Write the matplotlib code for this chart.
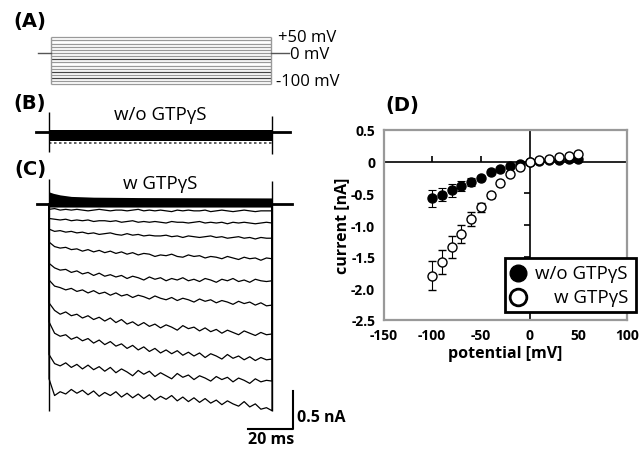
import numpy as np
import matplotlib
matplotlib.use('Agg')
import matplotlib.pyplot as plt
from matplotlib.patches import Rectangle

plt.rcParams['font.family'] = ['Open Sans', 'DejaVu Sans']

W, H = 644, 452

# ---------------- data ----------------
# (A) voltage protocol
step_mv = [50, 40, 30, 20, 10, 0, -10, -20, -30, -40, -50, -60, -70, -80, -90, -100]
step_col = ['#999999'] * 16
for i in (7, 11, 13):
    step_col[i] = '#444444'
hold_mv = 0
step_ms = [0, 100]

# (B) w/o GTPgS - overlapping sweeps form a band (nA)
b_band_t = [0, 100]
b_band_up = [0.035, 0.035]
b_band_lo = [-0.11, -0.11]
b_edge = -0.14
b_onset = [0.27, -0.26]
b_offset = [0.22, -0.29]

# (C) w GTPgS - positive steps (+50..0 mV) overlap near baseline
c_band_t = [0, 2, 5, 10, 20, 40, 100]
c_band_up = [0.16, 0.14, 0.12, 0.10, 0.09, 0.085, 0.08]
c_band_lo = [-0.04, -0.04, -0.04, -0.04, -0.04, -0.04, -0.04]
c_onset_top = 0.33
c_offset_top = 0.30

# (C) sweeps -10 .. -100 mV, sampled every 2.5 ms (nA)
c_sweeps = [
    [-0.07, -0.06, -0.08, -0.07, -0.08, -0.07, -0.08, -0.09, -0.08, -0.07, -0.08, -0.09, -0.08, -0.08,
     -0.09, -0.08, -0.07, -0.09, -0.08, -0.09, -0.08, -0.09, -0.1, -0.08, -0.09, -0.08, -0.09, -0.09,
     -0.08, -0.1, -0.09, -0.08, -0.09, -0.1, -0.09, -0.08, -0.09, -0.1, -0.09, -0.09, -0.09],
    [-0.19, -0.2, -0.21, -0.2, -0.22, -0.21, -0.22, -0.21, -0.23, -0.22, -0.22, -0.23, -0.22, -0.24,
     -0.23, -0.22, -0.24, -0.23, -0.24, -0.23, -0.24, -0.25, -0.23, -0.24, -0.24, -0.25, -0.24, -0.23,
     -0.25, -0.24, -0.25, -0.24, -0.26, -0.24, -0.25, -0.24, -0.25, -0.26, -0.25, -0.24, -0.25],
    [-0.33, -0.36, -0.35, -0.37, -0.36, -0.38, -0.37, -0.39, -0.38, -0.4, -0.39, -0.38, -0.4, -0.41,
     -0.39, -0.41, -0.4, -0.42, -0.41, -0.42, -0.42, -0.41, -0.43, -0.42, -0.44, -0.42, -0.43, -0.44,
     -0.43, -0.42, -0.44, -0.43, -0.45, -0.44, -0.43, -0.45, -0.44, -0.46, -0.44, -0.45, -0.45],
    [-0.5, -0.56, -0.58, -0.57, -0.6, -0.59, -0.62, -0.6, -0.63, -0.61, -0.64, -0.62, -0.65, -0.63,
     -0.66, -0.64, -0.67, -0.65, -0.66, -0.69, -0.67, -0.68, -0.66, -0.69, -0.7, -0.67, -0.69, -0.68,
     -0.71, -0.69, -0.7, -0.72, -0.69, -0.71, -0.73, -0.7, -0.72, -0.71, -0.74, -0.71, -0.72],
    [-0.78, -0.84, -0.87, -0.86, -0.9, -0.88, -0.92, -0.9, -0.94, -0.91, -0.95, -0.93, -0.96, -0.94,
     -0.98, -0.95, -0.97, -1.0, -0.96, -0.99, -0.97, -1.01, -0.98, -1.0, -0.97, -1.01, -0.99, -1.02,
     -0.98, -1.0, -1.03, -0.99, -1.01, -0.98, -1.02, -1.0, -1.03, -0.99, -1.01, -1.02, -1.01],
    [-1.0, -1.08, -1.1, -1.13, -1.11, -1.15, -1.13, -1.17, -1.14, -1.18, -1.16, -1.2, -1.17, -1.21,
     -1.19, -1.23, -1.2, -1.22, -1.25, -1.21, -1.24, -1.26, -1.23, -1.27, -1.24, -1.26, -1.29, -1.25,
     -1.28, -1.26, -1.3, -1.27, -1.29, -1.32, -1.28, -1.31, -1.29, -1.33, -1.3, -1.34, -1.33],
    [-1.3, -1.4, -1.45, -1.42, -1.47, -1.45, -1.5, -1.47, -1.52, -1.49, -1.54, -1.5, -1.56, -1.52,
     -1.58, -1.55, -1.6, -1.56, -1.61, -1.58, -1.63, -1.59, -1.62, -1.66, -1.6, -1.64, -1.62, -1.67,
     -1.63, -1.68, -1.65, -1.7, -1.66, -1.69, -1.72, -1.67, -1.7, -1.73, -1.69, -1.72, -1.71],
    [-1.55, -1.7, -1.74, -1.72, -1.78, -1.75, -1.8, -1.77, -1.83, -1.79, -1.85, -1.81, -1.87, -1.84,
     -1.9, -1.86, -1.92, -1.88, -1.94, -1.9, -1.96, -1.92, -1.97, -1.93, -1.99, -1.95, -2.0, -1.96,
     -2.02, -1.97, -2.0, -2.04, -1.98, -2.03, -2.0, -2.05, -2.01, -2.06, -2.02, -2.05, -2.04],
    [-1.98, -2.1, -2.13, -2.09, -2.15, -2.11, -2.17, -2.12, -2.18, -2.14, -2.2, -2.15, -2.22, -2.17,
     -2.21, -2.26, -2.19, -2.24, -2.2, -2.27, -2.22, -2.26, -2.3, -2.23, -2.28, -2.25, -2.31, -2.26,
     -2.29, -2.33, -2.27, -2.31, -2.28, -2.34, -2.29, -2.32, -2.36, -2.3, -2.34, -2.32, -2.33],
    [-2.3, -2.52, -2.47, -2.5, -2.44, -2.49, -2.45, -2.51, -2.46, -2.53, -2.48, -2.52, -2.47, -2.54,
     -2.49, -2.55, -2.5, -2.56, -2.51, -2.58, -2.53, -2.57, -2.52, -2.59, -2.54, -2.6, -2.55, -2.61,
     -2.56, -2.62, -2.58, -2.64, -2.59, -2.63, -2.66, -2.6, -2.67, -2.63, -2.7, -2.68, -2.72],
]
scale_ms = 20
scale_na = 0.5

# (D) I-V relation
volt = [-100, -90, -80, -70, -60, -50, -40, -30, -20, -10, 0, 10, 20, 30, 40, 50]
i_wo = [-0.58, -0.52, -0.45, -0.38, -0.32, -0.25, -0.17, -0.12, -0.07, -0.03, 0.0, 0.01, 0.02, 0.03, 0.04, 0.05]
e_wo = [0.13, 0.1, 0.1, 0.08, 0.06, 0.03, 0.03, 0.02, 0.02, 0.02, 0.01, 0.01, 0.01, 0.01, 0.01, 0.01]
i_w = [-1.80, -1.58, -1.35, -1.14, -0.91, -0.72, -0.53, -0.33, -0.19, -0.08, 0.0, 0.03, 0.05, 0.07, 0.095, 0.12]
e_w = [0.23, 0.19, 0.17, 0.14, 0.11, 0.07, 0.04, 0.03, 0.02, 0.02, 0.01, 0.01, 0.01, 0.01, 0.01, 0.02]
xt = [-150, -100, -50, 0, 50, 100]
yt = [0.5, 0, -0.5, -1.0, -1.5, -2.0, -2.5]
yt_lab = ['0.5', '0', '-0.5', '-1.0', '-1.5', '-2.0', '-2.5']

fig = plt.figure(figsize=(W / 100, H / 100), dpi=100)

def px_axes(left, top, right, bottom):
    return fig.add_axes([left / W, 1 - bottom / H, (right - left) / W, (bottom - top) / H])

lab_kw = dict(fontsize=14, fontweight='bold', family='DejaVu Sans')
fig.text(13 / W, 1 - 21 / H, '(A)', va='center', **lab_kw)
fig.text(13 / W, 1 - 104 / H, '(B)', va='center', **lab_kw)
fig.text(14 / W, 1 - 170 / H, '(C)', va='center', **lab_kw)
fig.text(385 / W, 1 - 105 / H, '(D)', va='center', **lab_kw)

# ---- (A) ----
axa = px_axes(29, 30, 293, 95)
axa.set_xlim(-10, 110)
axa.set_ylim(-130.2, 76.4)
axa.axis('off')
axa.hlines(step_mv, step_ms[0], step_ms[1], colors=step_col, lw=0.9)
axa.vlines(step_ms, min(step_mv), max(step_mv), colors='#999999', lw=1)
axa.plot([-6, step_ms[0]], [hold_mv, hold_mv], color='#555555', lw=1)
axa.plot([step_ms[1], 108], [hold_mv, hold_mv], color='#555555', lw=1)
txt_kw = dict(fontsize=12, va='center', ha='left', clip_on=False)
axa.text(103, 51, '+50 mV', **txt_kw)
axa.text(108.6, -3.5, '0 mV', **txt_kw)
axa.text(102.3, -89, '-100 mV', **txt_kw)

# ---- (B) ----
axb = px_axes(26.7, 108, 298.8, 160)
axb.set_xlim(-10, 112)
axb.set_ylim(-0.351, 0.333)
axb.axis('off')
axb.plot([-6, 0], [0, 0], color='k', lw=2)
axb.plot([100, 108], [0, 0], color='k', lw=2)
axb.fill_between(b_band_t, b_band_lo, b_band_up, color='k', lw=0)
axb.plot(b_band_t, [b_edge, b_edge], color='#444444', lw=1.2, ls=(0, (1.5, 1.5)))
axb.vlines(0, b_onset[1], b_onset[0], color='k', lw=1)
axb.vlines(100, b_offset[1], b_offset[0], color='k', lw=1)
axb.text(50, 0.24, 'w/o GTP\u03b3S', fontsize=13.5, ha='center', va='center')

# ---- (C) ----
axc = px_axes(26.7, 175, 298.8, 452)
axc.set_xlim(-10, 112)
axc.set_ylim(-3.25, 0.395)
axc.axis('off')
axc.plot([-5.5, 0], [0, 0], color='k', lw=2)
axc.plot([100, 109], [0, 0], color='k', lw=2)
axc.fill_between(c_band_t, c_band_lo, c_band_up, color='k', lw=0)
for sw in c_sweeps:
    t = np.linspace(0, 100, len(sw))
    axc.plot(np.r_[0, t, 100], np.r_[0, sw, 0], color='k', lw=0.9)
axc.vlines(0, min(c_sweeps[-1]), c_onset_top, color='k', lw=1)
axc.vlines(100, c_sweeps[-1][-1], c_offset_top, color='k', lw=1)
axc.text(50, 0.276, 'w GTP\u03b3S', fontsize=13.5, ha='center', va='center')

bx, by = 109.4, -2.96
axc.plot([bx - scale_ms, bx, bx], [by, by, by + scale_na], color='k', lw=1.5, clip_on=False)
axc.text(bx + 1.8, by + 0.16, f'{scale_na} nA', fontsize=11.5, fontweight='bold', va='center', ha='left', clip_on=False)
axc.text(bx - scale_ms / 2, by - 0.13, f'{scale_ms} ms', fontsize=11.5, fontweight='bold', va='center', ha='center', clip_on=False)

# ---- (D) ----
axd = px_axes(383.5, 131, 627, 321)
axd.set_xlim(-150, 100)
axd.set_ylim(-2.5, 0.5)
for s in axd.spines.values():
    s.set_color('#999999')
    s.set_linewidth(1.6)
axd.set_xticks(xt)
axd.set_xticklabels([str(v) for v in xt])
axd.set_yticks(yt)
axd.set_yticklabels(yt_lab)
axd.tick_params(length=0, pad=6, labelsize=10)
for lab in axd.get_xticklabels() + axd.get_yticklabels():
    lab.set_fontweight('bold')
axd.axhline(0, color='k', lw=1.2, zorder=1)
axd.axvline(0, color='k', lw=1.2, zorder=1)
axd.plot([v for v in xt if v not in (-150, 0, 100)], [0] * 3, ls='none', marker=2, ms=4, mew=1.2, color='k')
axd.plot([0] * 6, [v for v in yt if v != 0], ls='none', marker=0, ms=4, mew=1.2, color='k')
axd.set_xlabel('potential [mV]', fontsize=11.5, fontweight='bold', labelpad=2)
axd.set_ylabel('current [nA]', fontsize=11.5, fontweight='bold', labelpad=1)

axd.errorbar(volt, i_wo, yerr=e_wo, fmt='o', mfc='k', mec='k', ms=6.5, ecolor='k',
             elinewidth=0.8, capsize=3, capthick=0.8, zorder=3)
axd.errorbar(volt, i_w, yerr=e_w, fmt='o', mfc='white', mec='k', mew=1, ms=6.5, ecolor='k',
             elinewidth=0.8, capsize=3, capthick=0.8, zorder=4)

# legend box drawn by hand (text right aligned)
axd.add_patch(Rectangle((0.499, 0.042), 0.538, 0.284, transform=axd.transAxes, fill=True,
                        fc='white', ec='k', lw=2, clip_on=False, zorder=6))
axd.plot([0.552], [0.247], 'o', ms=12, mfc='k', mec='k', transform=axd.transAxes, clip_on=False, zorder=7)
axd.plot([0.552], [0.121], 'o', ms=12, mfc='white', mec='k', mew=2, transform=axd.transAxes, clip_on=False, zorder=7)
axd.text(1.004, 0.247, 'w/o GTP\u03b3S', fontsize=13.5, ha='right', va='center', transform=axd.transAxes, zorder=7)
axd.text(1.004, 0.121, 'w GTP\u03b3S', fontsize=13.5, ha='right', va='center', transform=axd.transAxes, zorder=7)

fig.savefig('out.png', dpi=100)
